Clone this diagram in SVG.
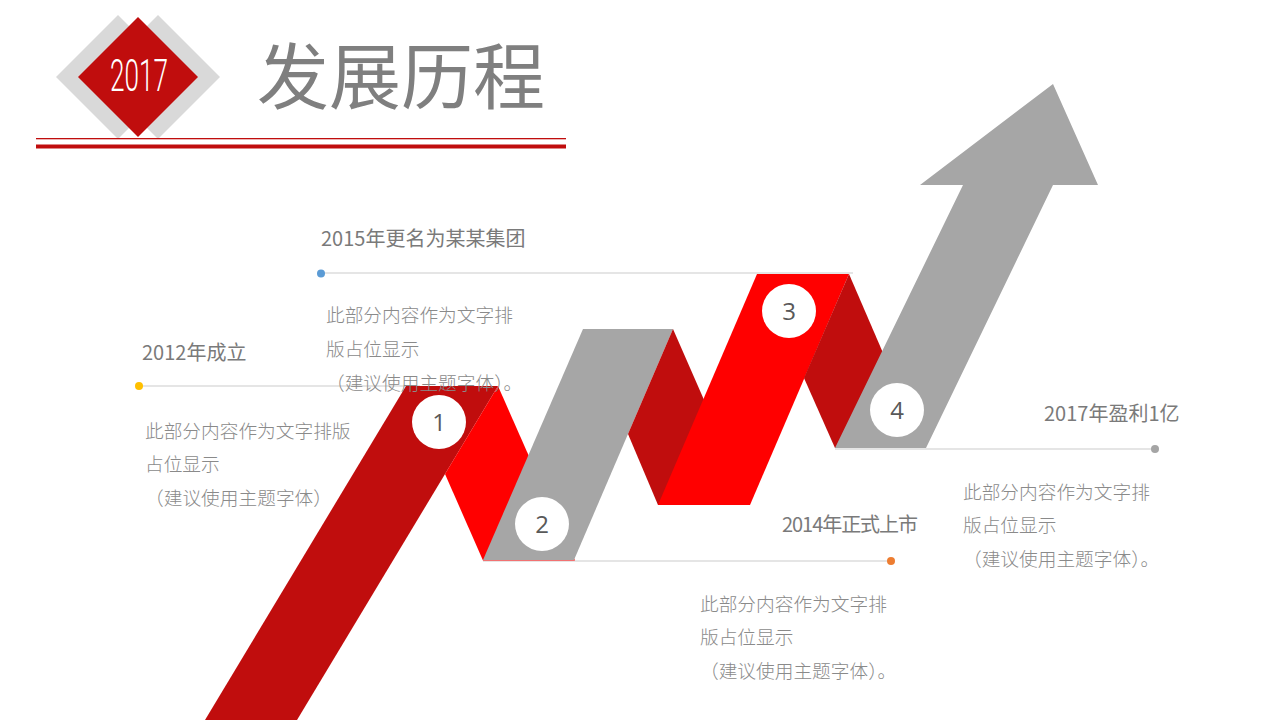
<svg xmlns="http://www.w3.org/2000/svg" width="1280" height="720" viewBox="0 0 1280 720">
<style>
.cjk{font-family:"Noto Sans CJK SC","Noto Sans",sans-serif;}
.lbl{font-size:20px;fill:#7a7a7a;}
.para{font-size:18.7px;fill:#8a8a8a;font-weight:300;}
.num{font-family:"Open Sans","Noto Sans",sans-serif;font-size:24px;fill:#595959;text-anchor:middle;}
.guide{stroke:#dcdcdc;stroke-width:1.3;fill:none;}
.dred{fill:#c00d0d;}
.bred{fill:#ff0000;}
.gray{fill:#a6a6a6;}
.badge{fill:#ffffff;}
</style>
<rect width="1280" height="720" fill="#ffffff"/>

<g id="header">
  <polygon points="118,15 180,77 118,139 56,77" fill="#d9d9d9"/>
  <polygon points="158,15 220,77 158,139 96,77" fill="#d9d9d9"/>
  <polygon points="138,17 198,77 138,137 78,77" fill="#c00d0d"/>
  <text x="110" y="91" font-family="Roboto, 'DejaVu Sans', sans-serif" font-weight="300" font-size="45" fill="#ffffff" textLength="58" lengthAdjust="spacingAndGlyphs">2017</text>
  <text class="cjk" x="257" y="103" font-size="72" fill="#7f7f7f">发展历程</text>
  <rect x="36" y="138" width="530" height="1.3" fill="#c00d0d"/>
  <rect x="36" y="144.5" width="530" height="4" fill="#c00d0d"/>
</g>

<g id="connectors">
  <line class="guide" x1="139" y1="386" x2="420" y2="386"/>
  <line class="guide" x1="321" y1="273" x2="853" y2="273"/>
  <line class="guide" x1="483" y1="561" x2="891" y2="561"/>
  <line class="guide" x1="835" y1="449" x2="1155" y2="449"/>
  <circle cx="139" cy="386" r="4" fill="#ffc000"/>
  <circle cx="321" cy="273.5" r="4" fill="#5b9bd5"/>
  <circle cx="891" cy="561" r="4" fill="#ed7d31"/>
  <circle cx="1155" cy="449" r="4" fill="#a5a5a5"/>
</g>

<g id="ribbon">
  <polygon class="dred" points="406,386 498,386 297,720 205,720"/>
  <polygon class="bred" points="498,386 445,474 483,560.5 575,560.5"/>
  <polygon class="gray" points="483,560 574,560 673,329 583,329"/>
  <polygon class="dred" points="673,329 628,434 658,505 750,505"/>
  <polygon class="bred" points="658,505 750,505 849,274 757,274"/>
  <polygon class="dred" points="849,274 804,378 835,448 924,448"/>
  <polygon class="gray" points="835,448 926,448 1053,185 1098,185 1053,84 920,185 963,185"/>
</g>

<g id="step1">
  <circle class="badge" cx="439" cy="422" r="27"/>
  <text class="num" x="439" y="430.5">1</text>
  <text class="cjk lbl" x="142" y="360">2012年成立</text>
  <text class="cjk para" x="145" y="438">此部分内容作为文字排版</text>
  <text class="cjk para" x="145" y="471">占位显示</text>
  <text class="cjk para" x="145" y="505" textLength="187" lengthAdjust="spacing">（建议使用主题字体）</text>
</g>

<g id="step2">
  <circle class="badge" cx="542" cy="524" r="27"/>
  <text class="num" x="542" y="532.5">2</text>
  <text class="cjk lbl" x="321" y="246">2015年更名为某某集团</text>
  <text class="cjk para" x="326" y="322">此部分内容作为文字排</text>
  <text class="cjk para" x="326" y="356">版占位显示</text>
  <text class="cjk para" x="326" y="390">（建议使用主题字体）。</text>
</g>

<g id="step3">
  <circle class="badge" cx="789" cy="311" r="27"/>
  <text class="num" x="789" y="319.5">3</text>
  <text class="cjk lbl" x="782" y="532" font-size="18" textLength="136" lengthAdjust="spacing">2014年正式上市</text>
  <text class="cjk para" x="700" y="611">此部分内容作为文字排</text>
  <text class="cjk para" x="700" y="644">版占位显示</text>
  <text class="cjk para" x="700" y="678">（建议使用主题字体）。</text>
</g>

<g id="step4">
  <circle class="badge" cx="897" cy="410" r="27"/>
  <text class="num" x="897" y="418.5">4</text>
  <text class="cjk lbl" x="1044" y="421">2017年盈利1亿</text>
  <text class="cjk para" x="963" y="499">此部分内容作为文字排</text>
  <text class="cjk para" x="963" y="532">版占位显示</text>
  <text class="cjk para" x="963" y="566">（建议使用主题字体）。</text>
</g>
</svg>
